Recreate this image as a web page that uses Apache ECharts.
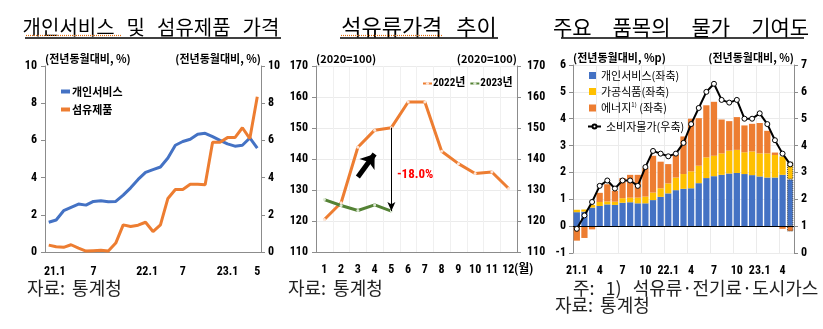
<!DOCTYPE html>
<html><head><meta charset="utf-8">
<script src="https://cdn.jsdelivr.net/npm/echarts@6/dist/echarts.min.js"></script>
<style>html,body{margin:0;padding:0;background:#fff}#c{width:823px;height:329px}</style>
</head><body><div id="c"></div>
<script>
// ---------- data ----------
const months = ['21.1','21.2','21.3','21.4','21.5','21.6','21.7','21.8','21.9','21.10','21.11','21.12',
  '22.1','22.2','22.3','22.4','22.5','22.6','22.7','22.8','22.9','22.10','22.11','22.12',
  '23.1','23.2','23.3','23.4','23.5'];
// panel 1: 개인서비스 / 섬유제품 (전년동월대비, %)
const personalSvc = [1.6,1.72,2.22,2.4,2.58,2.52,2.72,2.76,2.7,2.72,3.06,3.45,3.9,4.28,4.43,4.57,5.05,5.74,5.94,6.06,6.33,6.38,6.2,6.0,5.81,5.69,5.74,6.13,5.58];
const textile = [0.37,0.28,0.25,0.39,0.21,0.05,0.07,0.09,0.05,0.48,1.46,1.37,1.44,1.6,1.1,1.46,2.88,3.36,3.36,3.64,3.64,3.62,5.9,5.9,6.15,6.15,6.68,6.1,8.35];
// panel 2: 석유류가격 (2020=100)
const monthNums = ['1','2','3','4','5','6','7','8','9','10','11','12'];
const monthUnit = '(월)';
const oil2022 = [120.5,125.9,143.8,149.3,150.1,158.4,158.4,142.5,138.5,135.3,135.8,130.5];
const oil2023 = [126.9,125.0,123.4,125.2,123.2];
// panel 3: 기여도 (%p) and CPI (%)
const contribSvc = [0.52,0.54,0.69,0.75,0.81,0.79,0.87,0.89,0.85,0.85,0.97,1.09,1.22,1.34,1.39,1.41,1.60,1.79,1.86,1.91,1.96,1.98,1.94,1.90,1.85,1.81,1.81,1.91,1.74];
const contribFood = [0.09,0.08,0.10,0.15,0.11,0.12,0.17,0.17,0.21,0.25,0.28,0.32,0.37,0.47,0.55,0.63,0.65,0.77,0.76,0.80,0.85,0.86,0.81,0.88,0.86,0.90,0.84,0.68,0.66];
const contribEnergy = [-0.54,-0.44,-0.12,0.34,0.64,0.40,0.75,0.85,0.85,1.06,1.37,0.99,0.72,0.85,1.40,1.96,1.77,1.94,2.01,1.26,1.10,1.22,1.00,1.03,1.13,0.84,0.09,-0.10,-0.20];
const cpi = [0.9,1.4,1.9,2.5,2.7,2.4,2.7,2.7,2.5,3.2,3.8,3.7,3.6,3.7,4.1,4.8,5.4,6.0,6.3,5.7,5.6,5.7,5.0,5.0,5.2,4.8,4.2,3.7,3.3];

// ---------- style ----------
const NUM = "'Liberation Sans Narrow','Arial Narrow','Roboto Condensed','Liberation Sans','Noto Sans CJK KR',sans-serif";
const KOR = "'Noto Sans CJK KR','Noto Sans CJK SC',sans-serif";
const AXC = '#8c8c8c';
const BLUE = '#4472C4', ORANGE = '#ED7D31', YELLOW = '#FFC000', GREEN = '#548235';
const tickLab = {fontFamily: NUM, fontSize: 12, fontWeight: 'bold', color: '#000'};
const nameStyleL = {fontFamily: KOR, fontSize: 11, fontWeight: 'bold', color: '#000', align: 'left', verticalAlign: 'bottom'};
const nameStyleR = Object.assign({}, nameStyleL, {align: 'right'});
const monthFmt = v => v.split('.')[1] === '1' ? v : v.split('.')[1];

function yAx(grid, pos, min, max, interval, name, margin, split) {
  return {
    type: 'value', gridIndex: grid, position: pos, min, max, interval,
    name, nameLocation: 'end', nameGap: 2,
    nameTextStyle: pos === 'left' ? nameStyleL : nameStyleR,
    axisLine: {show: true, lineStyle: {color: AXC, width: 1}},
    axisTick: {show: true, length: 4, lineStyle: {color: AXC}},
    axisLabel: Object.assign({margin}, tickLab),
    splitLine: split ? {show: true, lineStyle: {color: '#ebebeb', width: 1}} : {show: false}
  };
}

const last = months.length - 1;
const prelim = (arr) => arr.map((v, i) => i === last ? {value: v, itemStyle: {borderType: 'dotted', borderColor: '#444', borderWidth: 1}} : v);

function titleText(x, text, size, space) {
  return {type: 'text', x, y: 27, style: {
    text: text.split(' ').join('{s| }'),
    fontFamily: KOR, fontSize: size, fill: '#000', align: 'center', verticalAlign: 'middle',
    rich: {s: {width: space, fontFamily: KOR, fontSize: size}}
  }};
}
function srcText(x, y, text, space) {
  return {type: 'text', x, y, style: {
    text: text.split(' ').join('{s| }'), fontFamily: KOR, fontSize: 18, fill: '#222', verticalAlign: 'middle',
    rich: {s: {width: space, fontFamily: KOR, fontSize: 18}}
  }};
}

const chart = echarts.init(document.getElementById('c'), null, {renderer: 'canvas'});
const option = {
  animation: false,
  backgroundColor: '#fff',
  grid: [
    {left: 45, top: 66, width: 216, height: 186},
    {left: 316, top: 66, width: 201, height: 186},
    {left: 573, top: 65, width: 221, height: 188}
  ],
  xAxis: [
    {type: 'category', gridIndex: 0, data: months, boundaryGap: true,
     axisLine: {lineStyle: {color: AXC}}, axisTick: {show: false},
     axisLabel: Object.assign({margin: 14,
       formatter: (v, i) => i === 0 ? '{a|' + v + '}' : (v === '22.1' ? '{b|' + v + '}' : monthFmt(v)),
       rich: {a: Object.assign({padding: [0, 0, 0, 12]}, tickLab), b: Object.assign({padding: [0, 0, 0, 18]}, tickLab)},
       interval: (i) => i % 6 === 0 || i === last}, tickLab)},
    {type: 'category', gridIndex: 1, data: monthNums, boundaryGap: true,
     axisLine: {lineStyle: {color: AXC}}, axisTick: {show: false},
     axisLabel: Object.assign({margin: 12, interval: 0,
       formatter: (v, i) => i === monthNums.length - 1 ? '{p| }' + v + '{u|' + monthUnit + '}' : v,
       rich: {p: Object.assign({width: 18}, tickLab), u: Object.assign({}, tickLab)}}, tickLab),
     splitLine: {show: true, interval: 0, lineStyle: {color: '#f0f0f0'}}},
    {type: 'category', gridIndex: 2, data: months, boundaryGap: true,
     axisLine: {show: false}, axisTick: {show: false},
     axisLabel: Object.assign({margin: 12, formatter: monthFmt, interval: 2}, tickLab),
     splitLine: {show: true, interval: 2, lineStyle: {color: '#ebebeb'}}}
  ],
  yAxis: [
    yAx(0, 'left', 0, 10, 2, '(전년동월대비, %)', 8, false),
    yAx(0, 'right', 0, 10, 2, '(전년동월대비, %)', 7, false),
    yAx(1, 'left', 110, 170, 10, '(2020=100)', 8, true),
    yAx(1, 'right', 110, 170, 10, '(2020=100)', 10, true),
    yAx(2, 'left', -1, 6, 1, '(전년동월대비, %p)', 7, true),
    yAx(2, 'right', 0, 7, 1, '(전년동월대비, %)', 7, false)
  ],
  legend: [
    {orient: 'vertical', left: 56, top: 81, itemGap: 7, itemWidth: 9, itemHeight: 4, icon: 'rect',
     data: ['개인서비스', '섬유제품'],
     textStyle: {fontFamily: KOR, fontSize: 11, fontWeight: 'bold', color: '#000', padding: [0, 0, 0, -3]}},
    {orient: 'horizontal', left: 417, top: 73, itemGap: 4, itemWidth: 9, itemHeight: 4,
     data: ['2022년', '2023년'],
     textStyle: {fontFamily: NUM, fontSize: 11, fontWeight: 'bold', color: '#000', padding: [0, 0, 0, -4]}},
    {orient: 'vertical', left: 584, top: 65, itemGap: 5, itemWidth: 7, itemHeight: 7, icon: 'rect',
     data: ['개인서비스(좌축)', '가공식품(좌축)', '에너지1) (좌축)'],
     formatter: n => n === '에너지1) (좌축)' ? '에너지{sup|1)} (좌축)' : n,
     textStyle: {fontFamily: KOR, fontSize: 11, color: '#000',
       rich: {sup: {fontSize: 6, fontFamily: KOR, color: '#000', verticalAlign: 'top', padding: [0, 0, 6, 0]}}}},
    {orient: 'vertical', left: 582, top: 116, itemWidth: 13, itemHeight: 5,
     data: ['소비자물가(우축)'],
     textStyle: {fontFamily: KOR, fontSize: 11, color: '#000'}}
  ],
  series: [
    {name: '개인서비스', type: 'line', xAxisIndex: 0, yAxisIndex: 0, data: personalSvc,
     symbol: 'none', lineStyle: {color: BLUE, width: 3}, itemStyle: {color: BLUE}},
    {name: '섬유제품', type: 'line', xAxisIndex: 0, yAxisIndex: 0, data: textile,
     symbol: 'none', lineStyle: {color: ORANGE, width: 3}, itemStyle: {color: ORANGE}},
    {name: '2022년', type: 'line', xAxisIndex: 1, yAxisIndex: 2, data: oil2022,
     symbol: 'circle', symbolSize: 3, lineStyle: {color: ORANGE, width: 3},
     itemStyle: {color: '#fde5d6', borderWidth: 0}},
    {name: '2023년', type: 'line', xAxisIndex: 1, yAxisIndex: 2, data: oil2023,
     symbol: 'circle', symbolSize: 3, lineStyle: {color: GREEN, width: 3},
     itemStyle: {color: '#dfead6', borderWidth: 0},
     markLine: {silent: true, animation: false, label: {show: false}, emphasis: {disabled: true},
       data: [
         [{coord: [monthNums[4], oil2022[4]], symbol: 'none', lineStyle: {color: '#000', width: 1, type: 'solid'}},
          {coord: [monthNums[4], oil2023[4]], symbol: 'arrow', symbolSize: [6, 9]}],
         [{coord: [1.95, 134.2], symbol: 'none', lineStyle: {color: '#000', width: 5, type: 'solid'}},
          {coord: [2.9, 141.6], symbol: 'arrow', symbolSize: [14, 13]}]
       ]},
     markPoint: {silent: true, animation: false, symbol: 'circle', symbolSize: 1,
       itemStyle: {color: 'rgba(0,0,0,0)'},
       label: {show: true, position: 'right', distance: 5, formatter: '-18.0%',
         color: '#ff0000', fontFamily: NUM, fontSize: 13, fontWeight: 'bold'},
       data: [{coord: [monthNums[4], 135.0]}]}},
    {name: '개인서비스(좌축)', type: 'bar', xAxisIndex: 2, yAxisIndex: 4, stack: 'c', data: prelim(contribSvc),
     barCategoryGap: '18%', itemStyle: {color: BLUE},
     markLine: {silent: true, animation: false, symbol: 'none', label: {show: false},
       lineStyle: {color: '#000', width: 1, type: 'solid'}, data: [{yAxis: 0}]}},
    {name: '가공식품(좌축)', type: 'bar', xAxisIndex: 2, yAxisIndex: 4, stack: 'c', data: prelim(contribFood),
     barCategoryGap: '18%', itemStyle: {color: YELLOW}},
    {name: '에너지1) (좌축)', type: 'bar', xAxisIndex: 2, yAxisIndex: 4, stack: 'c', data: prelim(contribEnergy),
     barCategoryGap: '18%', itemStyle: {color: ORANGE}},
    {name: '소비자물가(우축)', type: 'line', xAxisIndex: 2, yAxisIndex: 5, data: cpi, z: 5,
     symbol: 'circle', symbolSize: 5, lineStyle: {color: '#000', width: 2},
     itemStyle: {color: '#fff', borderColor: '#000', borderWidth: 1}}
  ],
  graphic: [
    titleText(151, '개인서비스 및 섬유제품 가격', 20, 12),
    titleText(419, '석유류가격 추이', 22, 14),
    titleText(681, '주요 품목의 물가 기여도', 21, 21),
    {type: 'line', shape: {x1: 25, y1: 38, x2: 281, y2: 38}, style: {stroke: '#000', lineWidth: 1.5}},
    {type: 'line', shape: {x1: 340, y1: 38, x2: 498, y2: 38}, style: {stroke: '#000', lineWidth: 1.5}},
    {type: 'line', shape: {x1: 561, y1: 38, x2: 804, y2: 38}, style: {stroke: '#000', lineWidth: 1.5}},
    {type: 'line', shape: {x1: 26, y1: 35.5, x2: 122, y2: 35.5}, style: {stroke: '#E26B0A', lineWidth: 1.2, lineDash: [1, 1]}},
    {type: 'line', shape: {x1: 341, y1: 35.5, x2: 442, y2: 35.5}, style: {stroke: '#E26B0A', lineWidth: 1.2, lineDash: [1, 1]}},
    srcText(27, 288, '자료: 통계청', 7),
    srcText(288, 288, '자료: 통계청', 7),
    srcText(573, 288, '주: 1) 석유류·전기료·도시가스', 11),
    srcText(555, 305, '자료: 통계청', 7)
  ]
};
chart.setOption(option);
</script>
</body></html>
